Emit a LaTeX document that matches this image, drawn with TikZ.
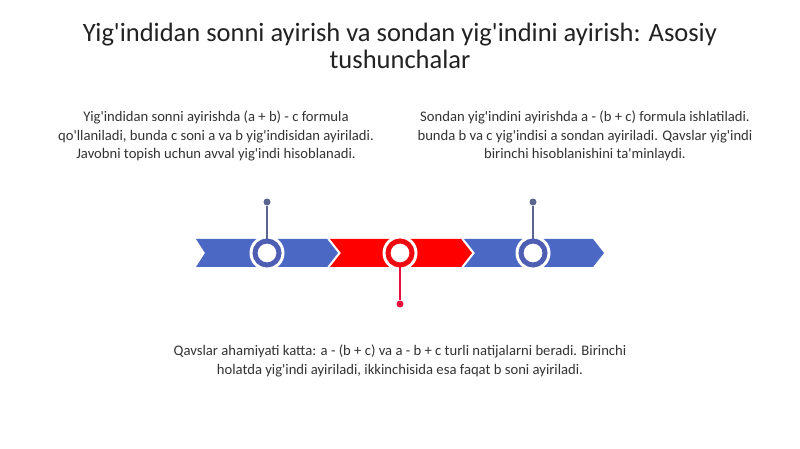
\documentclass[tikz,border=0pt]{standalone}
\usepackage{fontspec}
\setmainfont{Carlito}
\newcommand\sq{\textquotesingle}
\begin{document}
\begin{tikzpicture}[x=1bp,y=-1bp,
  seg/.style={draw=white, line width=1.2bp, line join=miter},
  halo/.style={circle, fill=white, minimum size=35bp, inner sep=0pt},
  ring/.style={circle, fill=white, line width=5bp, minimum size=24bp, inner sep=0pt},
  pin/.style={line width=1.6bp},
  dot/.style={circle, inner sep=0pt, minimum size=7bp},
  txt/.style={align=center, text=textgray, font=\fontsize{14.7}{18.4}\selectfont, inner sep=0pt},
]
\definecolor{bandblue}{HTML}{4A68C4}
\definecolor{ringblue}{HTML}{4E5FB3}
\definecolor{pinblue}{HTML}{5A6590}
\definecolor{bandred}{HTML}{FF0000}
\definecolor{ringred}{HTML}{EE0A10}
\definecolor{pinred}{HTML}{E8103C}
\definecolor{textgray}{HTML}{333333}
\definecolor{titlegray}{HTML}{222222}
\useasboundingbox[fill=white] (0,0) rectangle (800,449);

% title
\node[align=center, text=titlegray, font=\fontsize{26.6}{27.5}\selectfont, inner sep=0pt] (title) at (400,46)
  {Yig\sq indidan sonni ayirish va sondan yig\sq indini ayirish: Asosiy\\tushunchalar};

% band segments
\fill[bandblue] (196,239) -- (328,239) -- (339,253) -- (328,267) -- (196,267) -- (205,253) -- cycle;
\draw[seg] (328,239) -- (339,253) -- (328,267);
\fill[bandred] (330,239) -- (462,239) -- (473,253) -- (462,267) -- (330,267) -- (341,253) -- cycle;
\draw[seg] (462,239) -- (473,253) -- (462,267);
\fill[bandblue] (464,239) -- (593,239) -- (604,253) -- (593,267) -- (464,267) -- (475,253) -- cycle;

% pin ends
\node[dot, fill=pinblue] (d1) at (267,202) {};
\node[dot, fill=pinred] (d2) at (400,304) {};
\node[dot, fill=pinblue] (d3) at (533,202) {};

% halos
\node[halo] (h1) at (267,253) {};
\node[halo] (h2) at (400,253) {};
\node[halo] (h3) at (533,253) {};

% pins
\draw[pin, draw=pinblue] (d1) -- (h1.center);
\draw[pin, draw=pinred] (d2) -- (h2.center);
\draw[pin, draw=pinblue] (d3) -- (h3.center);

% rings
\node[ring, draw=ringblue] (c1) at (267,253) {};
\node[ring, draw=ringred] (c2) at (400,253) {};
\node[ring, draw=ringblue] (c3) at (533,253) {};

% texts
\node[txt] (t1) at (216,136)
  {Yig\sq indidan sonni ayirishda (a + b) - c formula\\qo\sq llaniladi, bunda c soni a va b yig\sq indisidan ayiriladi.\\Javobni topish uchun avval yig\sq indi hisoblanadi.};
\node[txt] (t2) at (585,136)
  {Sondan yig\sq indini ayirishda a - (b + c) formula ishlatiladi.\\bunda b va c yig\sq indisi a sondan ayiriladi. Qavslar yig\sq indi\\birinchi hisoblanishini ta\sq minlaydi.};
\node[txt] (t3) at (400,361)
  {Qavslar ahamiyati katta: a - (b + c) va a - b + c turli natijalarni beradi. Birinchi\\holatda yig\sq indi ayiriladi, ikkinchisida esa faqat b soni ayiriladi.};
\end{tikzpicture}
\end{document}
